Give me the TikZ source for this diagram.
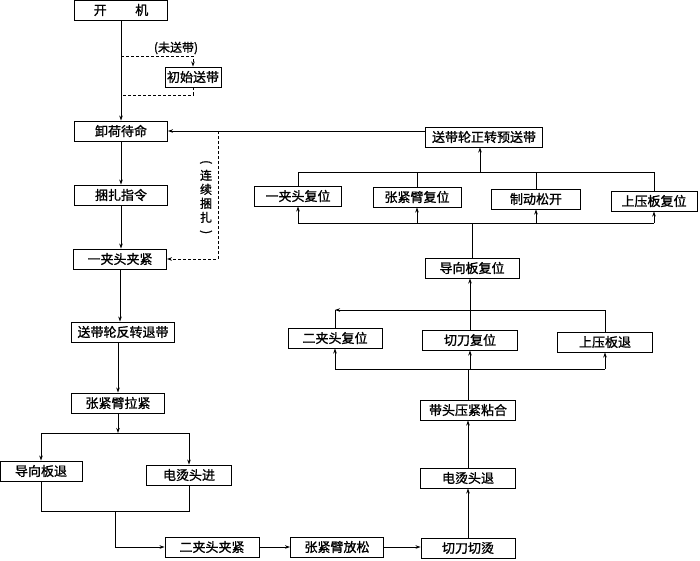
\documentclass[tikz,border=0pt]{standalone}
\usepackage{fontspec}
\setmainfont{Noto Sans CJK SC}[AutoFakeBold=1.2]
\usetikzlibrary{arrows.meta}
\begin{document}
\begin{tikzpicture}[x=1pt,y=-1pt,
  box/.style={draw, line width=0.9pt, minimum height=20pt, inner xsep=2pt, inner ysep=1pt, font=\fontsize{13}{14}\selectfont\bfseries},
  lbl/.style={inner sep=0pt, font=\fontsize{12}{14}\selectfont\bfseries},
  conn/.style={line width=0.8pt},
  arr/.style={conn, -{Stealth[length=5pt,width=3.5pt]}},
  dsh/.style={conn, dashed, dash pattern=on 3pt off 2pt}]
\useasboundingbox (0,0) rectangle (700,560);
% left column
\node[box, minimum width=93pt] (kj) at (121,10) {开\hspace{2.2em}机};
\node[box, minimum width=52pt] (cs) at (193,77) {初始送带};
\node[lbl] (wsd) at (176,48) {(未送带)};
\node[box, minimum width=93pt] (xh) at (121,131) {卸荷待命};
\node[box, minimum width=93pt] (kz) at (121,195) {捆扎指令};
\node[box, minimum width=93pt] (yj) at (120,259) {一夹头夹紧};
\node[box, minimum width=103pt] (sf) at (123,332) {送带轮反转退带};
\node[box, minimum width=93pt] (zl) at (118,403) {张紧臂拉紧};
\node[box, minimum width=82pt] (dt) at (41,471) {导向板退};
\node[box, minimum width=85pt] (dj) at (189,475) {电烫头进};
\node[box, minimum width=94pt] (ej) at (212,547) {二夹头夹紧};
\node[box, minimum width=93pt] (zf) at (337,547) {张紧臂放松};
\node[box, minimum width=94pt] (qq) at (468,548) {切刀切烫};
% right column
\node[box, minimum width=95pt] (dtt) at (468,478) {电烫头退};
\node[box, minimum width=95pt] (dy) at (468,410) {带头压紧粘合};
\node[box, minimum width=94pt] (efw) at (335,338) {二夹头复位};
\node[box, minimum width=95pt] (qfw) at (470,340) {切刀复位};
\node[box, minimum width=95pt] (st) at (605,342) {上压板退};
\node[box, minimum width=94pt] (dfw) at (472,268) {导向板复位};
\node[box, minimum width=87pt] (yfw) at (298,196) {一夹头复位};
\node[box, minimum width=88pt] (zfw) at (417,197) {张紧臂复位};
\node[box, minimum width=89pt] (zd) at (536,199) {制动松开};
\node[box, minimum width=86pt] (sfw) at (654,201) {上压板复位};
\node[box, minimum width=117pt] (szy) at (484,137) {送带轮正转预送带};
\node[lbl, align=center] (lx) at (206,198) {\rotatebox[origin=c]{-90}{(}\\连\\续\\捆\\扎\\\rotatebox[origin=c]{-90}{)}};
% coordinates
\coordinate (d1) at (121,56);
\coordinate (d2) at (121,95);
\coordinate (c1) at (218,131);
\coordinate (s1) at (118,433);
\coordinate (j1) at (115,511);
\coordinate (b1) at (468,369);
\coordinate (b2) at (470,310);
\coordinate (b3) at (478,223);
\coordinate (b4) at (480,172);
% left connectors
\draw[arr] (kj.south) -- (kj.south|-xh.north);
\draw[dsh, -{Stealth[length=5pt,width=3.5pt]}] (d1) -| (cs.north);
\draw[dsh] (cs.south) |- (d2);
\draw[arr] (xh.south) -- (xh.south|-kz.north);
\draw[arr] (kz.south) -- (kz.south|-yj.north);
\draw[arr] (yj.south) -- (yj.south|-sf.north);
\draw[arr] (zl.south|-sf.south) -- (zl.north);
\draw[arr] (zl.south) -- (s1);
\draw[conn] (dt.north|-s1) -- (dj.north|-s1);
\draw[arr] (dt.north|-s1) -- (dt.north);
\draw[arr] (dj.north|-s1) -- (dj.north);
\draw[conn] (dt.south) -- (dt.south|-j1) -- (dj.south|-j1) -- (dj.south);
\draw[arr] (j1) |- (ej.west);
\draw[arr] (ej.east) -- (zf.west);
\draw[arr] (zf.east) -- (qq.west|-zf.east);
% feedback
\draw[arr] (szy.west|-xh.east) -- (xh.east);
\draw[dsh, -{Stealth[length=5pt,width=3.5pt]}] (c1) |- (yj.east);
% right connectors
\draw[arr] (qq.north) -- (dtt.south);
\draw[arr] (dtt.north) -- (dy.south);
\draw[conn] (dy.north) -- (b1);
\draw[conn] (efw.south|-b1) -- (st.south|-b1);
\draw[arr] (efw.south|-b1) -- (efw.south);
\draw[arr] (qfw.south|-b1) -- (qfw.south);
\draw[arr] (st.south|-b1) -- (st.south);
\draw[conn] (efw.north) -- (efw.north|-b2);
\draw[conn] (st.north) -- (st.north|-b2);
\draw[arr] (st.north|-b2) -- (efw.north|-b2);
\draw[arr] (qfw.north) -- (qfw.north|-dfw.south);
\draw[conn] (dfw.north) -- (dfw.north|-b3) -- (b3);
\draw[conn] (yfw.south|-b3) -- (sfw.south|-b3);
\draw[arr] (yfw.south|-b3) -- (yfw.south);
\draw[arr] (zfw.south|-b3) -- (zfw.south);
\draw[arr] (zd.south|-b3) -- (zd.south);
\draw[arr] (sfw.south|-b3) -- (sfw.south);
\draw[conn] (yfw.north|-b4) -- (sfw.north|-b4);
\draw[conn] (yfw.north) -- (yfw.north|-b4);
\draw[conn] (zfw.north) -- (zfw.north|-b4);
\draw[conn] (zd.north) -- (zd.north|-b4);
\draw[conn] (sfw.north) -- (sfw.north|-b4);
\draw[arr] (b4) -- (b4|-szy.south);
\end{tikzpicture}
\end{document}
